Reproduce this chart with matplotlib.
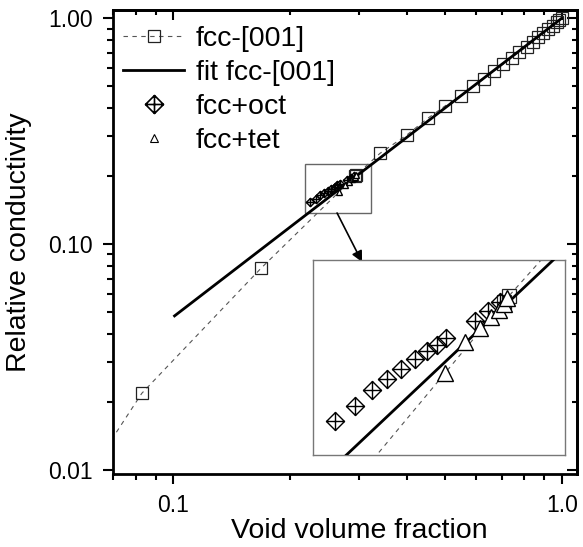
import numpy as np
import matplotlib
matplotlib.use("Agg")
import matplotlib.pyplot as plt
from matplotlib.path import Path
from matplotlib.lines import Line2D
from matplotlib.patches import Rectangle
from matplotlib.ticker import FixedLocator, FixedFormatter, NullFormatter, LogLocator

plt.rcParams['font.family'] = ['Liberation Sans', 'DejaVu Sans']

# ---------------- data ----------------
# fcc-[001] (squares joined by dashed line)
fcc_x = [0.055, 0.0829, 0.168, 0.2935, 0.2955, 0.3405, 0.399, 0.4519, 0.5006, 0.5495,
         0.5921, 0.631, 0.669, 0.707, 0.743, 0.7775, 0.8127, 0.842, 0.8705, 0.897,
         0.924, 0.948, 0.970, 0.985, 1.0]
fcc_y = [0.0074, 0.0218, 0.078, 0.1995, 0.2020, 0.2522, 0.304, 0.3605, 0.4088, 0.454,
         0.501, 0.540, 0.586, 0.627, 0.669, 0.711, 0.748, 0.788, 0.824, 0.858,
         0.895, 0.928, 0.958, 0.979, 1.0]

# fit fcc-[001] (straight power-law line)
fit_x = [0.1, 1.0]
fit_y = [0.0476, 1.0]

# fcc+oct (crossed diamonds)
oct_x = [0.2252, 0.2324, 0.2385, 0.2443, 0.2497, 0.2552, 0.2600, 0.2641, 0.2680,
         0.2804, 0.2861, 0.2916]
oct_y = [0.1537, 0.1589, 0.1643, 0.1685, 0.1721, 0.1761, 0.1790, 0.1816, 0.1844,
         0.1915, 0.1957, 0.1996]

# fcc+tet (triangles)
tet_x = [0.2676, 0.2761, 0.2826, 0.2875, 0.2911, 0.2934, 0.2948]
tet_y = [0.1708, 0.1828, 0.1885, 0.1932, 0.1962, 0.1988, 0.2014]

labels = ["fcc-[001]", "fit fcc-[001]", "fcc+oct", "fcc+tet"]
xlabel = "Void volume fraction"
ylabel = "Relative conductivity"
xtick_vals = [0.1, 1.0]
xtick_labels = ["0.1", "1.0"]
ytick_vals = [0.01, 0.1, 1.0]
ytick_labels = ["0.01", "0.10", "1.00"]

# axis ranges
main_xlim = (0.07, 1.095)
main_ylim = (0.00957, 1.088)
zoom_xlim = (0.2177, 0.3228)
zoom_ylim = (0.1426, 0.2188)
rect_x = (0.2177, 0.3228)
rect_y = (0.1372, 0.225)
arrow_from = (0.2639, 0.1372)
arrow_to = (0.306, 0.0832)

# ---------------- styles ----------------
W, H = 583, 547
fig = plt.figure(figsize=(W / 100, H / 100), dpi=100)

def fx(px):
    return px / W

def fy(py):
    return 1 - py / H

ax = fig.add_axes([fx(113.3), fy(474), fx(577) - fx(113.3), fy(10) - fy(474)])

diamond_plus = Path(
    [(0, 1), (1, 0), (0, -1), (-1, 0), (0, 1), (0, 1), (0, -1), (-1, 0), (1, 0)],
    [Path.MOVETO, Path.LINETO, Path.LINETO, Path.LINETO, Path.CLOSEPOLY,
     Path.MOVETO, Path.LINETO, Path.MOVETO, Path.LINETO])

dash_style = (0, (4, 4))
dash_color = '#555555'

def draw_series(a, sq_ms, oct_ms, tet_ms, zorder_base=2):
    a.plot(fcc_x, fcc_y, ls=dash_style, lw=0.8, color=dash_color,
           marker='s', ms=sq_ms, mfc='none', mec='#222222', mew=0.9, zorder=zorder_base)
    a.plot(fit_x, fit_y, color='black', lw=2.0, solid_capstyle='butt', zorder=zorder_base + 1)
    a.plot(oct_x, oct_y, ls='none', marker=diamond_plus, ms=oct_ms, mfc='none',
           mec='black', mew=1.0, zorder=zorder_base + 2)
    a.plot(tet_x, tet_y, ls='none', marker='^', ms=tet_ms, mfc='white',
           mec='black', mew=1.0, zorder=zorder_base + 3)

draw_series(ax, 9, 6, 5)

ax.set_xscale('log')
ax.set_yscale('log')
ax.set_xlim(*main_xlim)
ax.set_ylim(*main_ylim)

ax.xaxis.set_major_locator(FixedLocator(xtick_vals))
ax.xaxis.set_major_formatter(FixedFormatter(xtick_labels))
ax.yaxis.set_major_locator(FixedLocator(ytick_vals))
ax.yaxis.set_major_formatter(FixedFormatter(ytick_labels))
ax.xaxis.set_minor_locator(LogLocator(base=10, subs=np.arange(2, 10), numticks=20))
ax.yaxis.set_minor_locator(LogLocator(base=10, subs=np.arange(2, 10), numticks=20))
ax.xaxis.set_minor_formatter(NullFormatter())
ax.yaxis.set_minor_formatter(NullFormatter())

for s in ax.spines.values():
    s.set_linewidth(2.0)
ax.tick_params(which='major', direction='out', length=7.2, width=1.5, labelsize=16.5, pad=7.5)
ax.tick_params(which='minor', direction='out', length=4.5, width=1.5)

# inward ticks on top / right
sx = ax.secondary_xaxis('top')
sy = ax.secondary_yaxis('right')
for sa, axis in ((sx, sx.xaxis), (sy, sy.yaxis)):
    axis.set_major_locator(FixedLocator(xtick_vals if sa is sx else ytick_vals))
    axis.set_minor_locator(LogLocator(base=10, subs=np.arange(2, 10), numticks=20))
    axis.set_major_formatter(NullFormatter())
    axis.set_minor_formatter(NullFormatter())
    sa.tick_params(which='major', direction='in', length=7.2, width=1.5)
    sa.tick_params(which='minor', direction='in', length=3.6, width=1.5)
    for s in sa.spines.values():
        s.set_linewidth(2.0)

ax.set_xlabel(xlabel, fontsize=20.5)
ax.set_ylabel(ylabel, fontsize=20.5)
ax.xaxis.set_label_coords(0.53, -0.094)
ax.yaxis.set_label_coords(-0.175, 0.5)

# zoom rectangle and arrow
ax.add_patch(Rectangle((rect_x[0], rect_y[0]), rect_x[1] - rect_x[0], rect_y[1] - rect_y[0],
                       fill=False, edgecolor='#666666', lw=1.0, zorder=1))
ax.annotate("", xy=arrow_to, xytext=arrow_from,
            arrowprops=dict(arrowstyle='-|>', color='black', lw=1.2,
                            mutation_scale=16, shrinkA=0, shrinkB=0), zorder=6)

# legend
handles = [
    Line2D([], [], ls=dash_style, lw=0.8, color=dash_color, marker='s', ms=9,
           mfc='none', mec='#222222', mew=0.9),
    Line2D([], [], color='black', lw=2.0),
    Line2D([], [], ls='none', marker=diamond_plus, ms=13, mfc='none', mec='black', mew=1.2),
    Line2D([], [], ls='none', marker='^', ms=5.5, mfc='white', mec='black', mew=0.8),
]
leg = ax.legend(handles, labels, loc='upper left', bbox_to_anchor=(0.021, 0.965),
                frameon=False, fontsize=20.5, handlelength=2.14, handletextpad=0.42,
                labelspacing=0.28, borderpad=0, borderaxespad=0)

# inset
axin = fig.add_axes([fx(313.3), fy(455), fx(565) - fx(313.3), fy(260) - fy(455)])
draw_series(axin, 10, 13, 11)
axin.set_xscale('log')
axin.set_yscale('log')
axin.set_xlim(*zoom_xlim)
axin.set_ylim(*zoom_ylim)
axin.set_xticks([])
axin.set_yticks([])
axin.xaxis.set_minor_locator(FixedLocator([]))
axin.yaxis.set_minor_locator(FixedLocator([]))
for s in axin.spines.values():
    s.set_linewidth(1.0)
    s.set_edgecolor('#777777')

fig.savefig("out.png", dpi=100)
